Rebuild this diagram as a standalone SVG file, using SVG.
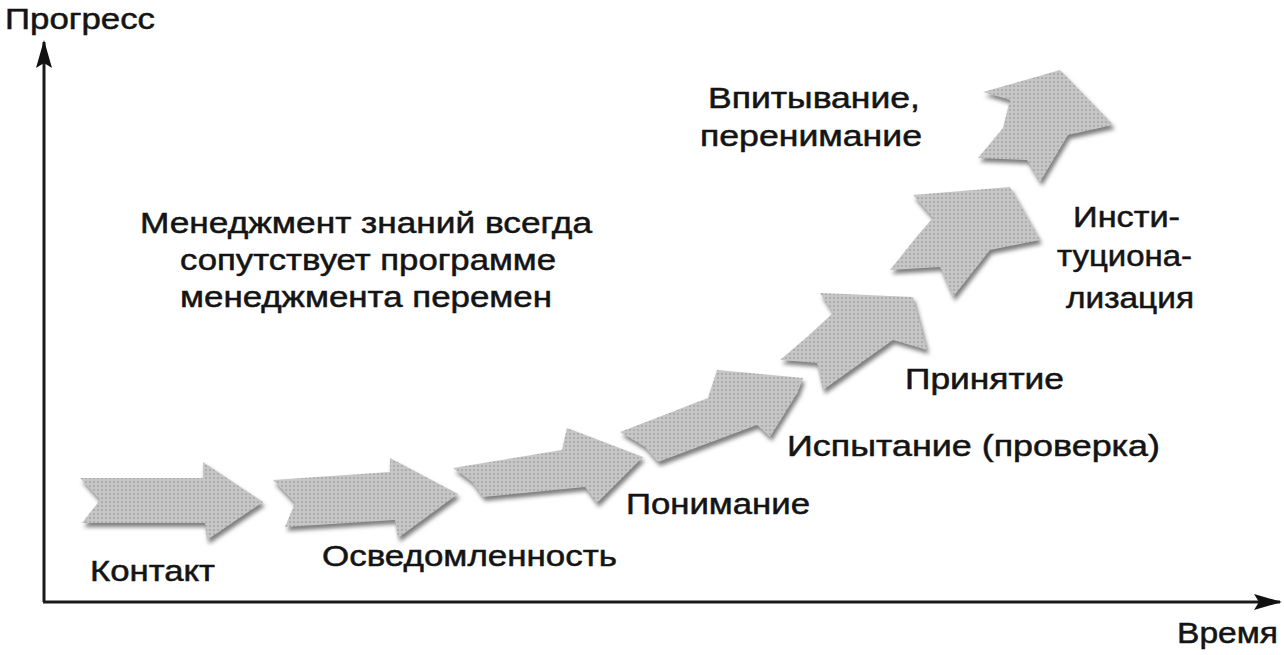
<svg xmlns="http://www.w3.org/2000/svg" xmlns:xlink="http://www.w3.org/1999/xlink" width="1284" height="655" viewBox="0 0 1284 655">
<defs>
  <pattern id="dots" width="4" height="4" patternUnits="userSpaceOnUse">
    <rect width="4" height="4" fill="#c6c6c6"/>
    <circle cx="2" cy="2" r="0.95" fill="#a2a2a2"/>
  </pattern>
  <filter id="blur" x="-10%" y="-10%" width="120%" height="130%">
    <feGaussianBlur stdDeviation="2.2"/>
  </filter>
  <filter id="soft" x="-5%" y="-5%" width="110%" height="110%">
    <feGaussianBlur stdDeviation="0.6"/>
  </filter>
  <marker id="ah" viewBox="0 0 28 16" refX="26" refY="8" markerWidth="28" markerHeight="16" markerUnits="userSpaceOnUse" orient="auto">
    <path d="M0,0 L28,8 L0,16 L5,8 Z" fill="#111"/>
  </marker>
</defs>
<style>
  .shadow { fill: #7d7d7d; filter: url(#blur); }
  .body { fill: url(#dots); filter: url(#soft); }
  .axis { stroke: #1a1a1a; stroke-width: 3; fill: none; marker-end: url(#ah); }
  text { font-family: "Liberation Sans", Arial, sans-serif; font-size: 29px; fill: #141414; stroke: #141414; stroke-width: 0.5; }
</style>
<rect width="1284" height="655" fill="#ffffff"/>

<g id="connectors">
  <line class="axis" x1="44" y1="602" x2="44" y2="42"/>
  <line class="axis" x1="43" y1="602" x2="1280" y2="602"/>
</g>

<g id="arrow-1">
  <polygon class="shadow" transform="translate(2,4)" points="80,478 203,478 203,462 263,502 207,540 205,523 82,523 100,500"/>
  <polygon class="body" points="80,478 203,478 203,462 263,502 207,540 205,523 82,523 100,500"/>
</g>
<g id="arrow-2">
  <polygon class="shadow" transform="translate(2,4)" points="273,480 390,472 390,458 458,494 398,538 395,520 285,527 295,503"/>
  <polygon class="body" points="273,480 390,472 390,458 458,494 398,538 395,520 285,527 295,503"/>
</g>
<g id="arrow-3">
  <polygon class="shadow" transform="translate(2,4)" points="453,468 562,450 567,428 643,457 597,503 585,487 483,497 472,482"/>
  <polygon class="body" points="453,468 562,450 567,428 643,457 597,503 585,487 483,497 472,482"/>
</g>
<g id="arrow-4">
  <polygon class="shadow" transform="translate(2,4)" points="620,432 708,398 717,370 803,378 798,392 770,437 757,425 658,462 645,447"/>
  <polygon class="body" points="620,432 708,398 717,370 803,378 798,392 770,437 757,425 658,462 645,447"/>
</g>
<g id="arrow-5">
  <polygon class="shadow" transform="translate(2,4)" points="820,293 913,297 927,350 893,340 823,390 817,363 780,360 807,337 833,313"/>
  <polygon class="body" points="820,293 913,297 927,350 893,340 823,390 817,363 780,360 807,337 833,313"/>
</g>
<g id="arrow-6">
  <polygon class="shadow" transform="translate(2,4)" points="913,195 1010,187 1040,240 990,250 953,297 940,267 890,270 918,235 933,218"/>
  <polygon class="body" points="913,195 1010,187 1040,240 990,250 953,297 940,267 890,270 918,235 933,218"/>
</g>
<g id="arrow-7">
  <polygon class="shadow" transform="translate(2,4)" points="983,92 1060,70 1113,125 1068,135 1040,182 1027,160 978,158 1003,128 1010,100"/>
  <polygon class="body" points="983,92 1060,70 1113,125 1068,135 1040,182 1027,160 978,158 1003,128 1010,100"/>
</g>

<g id="labels">
  <text x="5" y="29" textLength="150" lengthAdjust="spacingAndGlyphs">Прогресс</text>
  <text x="1177" y="643" textLength="101" lengthAdjust="spacingAndGlyphs">Время</text>
  <text x="90" y="581" textLength="125" lengthAdjust="spacingAndGlyphs">Контакт</text>
  <text x="322" y="566" textLength="295" lengthAdjust="spacingAndGlyphs">Осведомленность</text>
  <text x="626" y="514" textLength="184" lengthAdjust="spacingAndGlyphs">Понимание</text>
  <text x="787" y="456" textLength="373" lengthAdjust="spacingAndGlyphs">Испытание (проверка)</text>
  <text x="905" y="389" textLength="159" lengthAdjust="spacingAndGlyphs">Принятие</text>
  <text x="1073" y="227" textLength="107" lengthAdjust="spacingAndGlyphs">Инсти-</text>
  <text x="1057" y="266" textLength="135" lengthAdjust="spacingAndGlyphs">туциона-</text>
  <text x="1066" y="308" textLength="128" lengthAdjust="spacingAndGlyphs">лизация</text>
  <text x="708" y="108" textLength="212" lengthAdjust="spacingAndGlyphs">Впитывание,</text>
  <text x="700" y="146" textLength="222" lengthAdjust="spacingAndGlyphs">перенимание</text>
  <text x="140" y="233" textLength="452" lengthAdjust="spacingAndGlyphs">Менеджмент знаний всегда</text>
  <text x="180" y="270" textLength="376" lengthAdjust="spacingAndGlyphs">сопутствует программе</text>
  <text x="180" y="307" textLength="372" lengthAdjust="spacingAndGlyphs">менеджмента перемен</text>
</g>
</svg>
